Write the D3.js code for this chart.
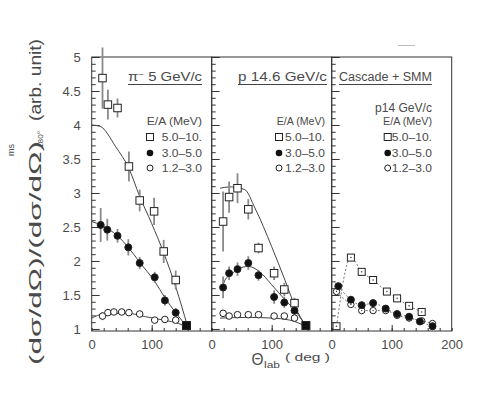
<!DOCTYPE html>
<html><head><meta charset="utf-8">
<script src="https://cdn.jsdelivr.net/npm/d3@7"></script>
<style>
body{margin:0;background:#fff}
svg{display:block}
text{font-family:"Liberation Sans",Arial,sans-serif;fill:#4a4a4a}
</style>
</head><body>
<svg id="c" width="485" height="394"></svg>
<script>
// ---------- data ----------
const panelNames = ["π⁻ 5 GeV/c", "p 14.6 GeV/c", "Cascade + SMM"];
const panel3Sub = "p14 GeV/c";
const legendHeader = "E/A (MeV)";
const seriesLabels = ["5.0–10.", "3.0–5.0", "1.2–3.0"];
const xTickLabels = [[0, 100], [0, 100], [0, 100, 200]];
const yTickLabels = [1, 1.5, 2, 2.5, 3, 3.5, 4, 4.5, 5];

// panel 1 : pi- 5 GeV/c
const p1SqAng = [18, 27, 43, 62, 80, 104, 120, 140];
const p1SqVal = [4.69, 4.30, 4.25, 3.39, 2.89, 2.73, 2.14, 1.72];
const p1SqErr = [0.45, 0.22, 0.14, 0.22, 0.16, 0.2, 0.17, 0.14];
const p1FcAng = [15, 26, 43, 61, 80, 105, 122, 140];
const p1FcVal = [2.53, 2.46, 2.37, 2.20, 1.97, 1.76, 1.42, 1.24];
const p1FcErr = [0.25, 0.16, 0.1, 0.12, 0.09, 0.08, 0.08, 0.07];
const p1OcAng = [18, 27, 37, 50, 62, 80, 105, 122, 140];
const p1OcVal = [1.19, 1.24, 1.25, 1.25, 1.24, 1.22, 1.13, 1.14, 1.13];
const p1OcErr = [0.06, 0.05, 0.04, 0.04, 0.04, 0.04, 0.04, 0.04, 0.04];
const p1FitSqAng = [0, 14, 40, 62, 80, 100, 120, 140, 160];
const p1FitSqVal = [4.0, 3.98, 3.68, 3.36, 2.95, 2.55, 2.12, 1.62, 1.03];
const p1FitFcAng = [0, 15, 43, 62, 80, 105, 122, 140, 160];
const p1FitFcVal = [2.58, 2.53, 2.37, 2.19, 1.98, 1.70, 1.46, 1.24, 1.02];
const p1FitOcAng = [0, 20, 60, 90, 120, 145, 160];
const p1FitOcVal = [1.16, 1.22, 1.23, 1.18, 1.13, 1.08, 1.02];

// panel 2 : p 14.6 GeV/c
const p2SqAng = [19, 29, 43, 61, 78, 104, 121, 138];
const p2SqVal = [2.58, 2.94, 3.07, 2.76, 2.19, 1.82, 1.58, 1.38];
const p2SqErr = [0.44, 0.23, 0.22, 0.15, 0.08, 0.1, 0.1, 0.08];
const p2FcAng = [19, 29, 43, 61, 78, 104, 121, 138];
const p2FcVal = [1.61, 1.82, 1.88, 1.97, 1.79, 1.47, 1.39, 1.27];
const p2FcErr = [0.16, 0.1, 0.1, 0.1, 0.08, 0.1, 0.08, 0.07];
const p2OcAng = [19, 29, 43, 61, 78, 104, 121, 138];
const p2OcVal = [1.23, 1.19, 1.21, 1.21, 1.21, 1.19, 1.19, 1.16];
const p2OcErr = [0.05, 0.04, 0.04, 0.04, 0.04, 0.04, 0.04, 0.04];
const p2FitSqAng = [14, 30, 55, 72, 100, 122, 139, 157];
const p2FitSqVal = [3.07, 3.09, 3.05, 2.78, 2.21, 1.72, 1.33, 1.04];
const p2FitFcAng = [14, 17, 22, 32, 44, 61, 80, 100, 122, 139, 157];
const p2FitFcVal = [1.6, 1.6, 1.72, 1.8, 1.88, 1.92, 1.84, 1.65, 1.43, 1.27, 1.04];
const p2FitOcAng = [14, 60, 100, 130, 157];
const p2FitOcVal = [1.16, 1.17, 1.16, 1.13, 1.04];

// normalisation points (180 deg reference)
const normAng = [158, 157];
const normVal = [1.05, 1.05];

// panel 3 : Cascade + SMM
const p3SqAng = [8, 32, 50, 69, 92, 109, 129, 150];
const p3SqVal = [1.04, 2.05, 1.84, 1.72, 1.55, 1.45, 1.34, 1.25];
const p3FcAng = [11, 32, 50, 69, 90, 109, 129, 147, 168];
const p3FcVal = [1.63, 1.43, 1.35, 1.38, 1.30, 1.22, 1.18, 1.11, 1.04];
const p3OcAng = [8, 32, 50, 69, 90, 109, 129, 150, 168];
const p3OcVal = [1.55, 1.36, 1.27, 1.27, 1.27, 1.20, 1.16, 1.12, 1.08];

// ---------- layout ----------
(function () {
const svg = d3.select("#c");
const yTop = 57, yBot = 331, pw = 120;
const panelX = [91.7, 211.7, 331.7];
const y = d3.scaleLinear().domain([0.97, 5]).range([yBot, yTop]);
const xs = panelX.map(x0 => d3.scaleLinear().domain([0, 200]).range([x0, x0 + pw]));
const ink = "#333", grey = "#8a8a8a";

// y ticks (each panel, inward)
const majorY = d3.range(1, 5.01, 0.5);
const minorY = d3.range(1, 5.001, 0.1).filter(v => Math.abs(v * 2 - Math.round(v * 2)) > 0.01);
panelX.forEach(x0 => {
  const gMin = svg.append("g").attr("transform", `translate(${x0},0)`)
    .call(d3.axisRight(y).tickValues(minorY).tickSize(4).tickFormat(""));
  const gMaj = svg.append("g").attr("transform", `translate(${x0},0)`)
    .call(d3.axisRight(y).tickValues(majorY).tickSize(8).tickFormat(""));
  [gMin, gMaj].forEach(g => { g.select(".domain").remove(); g.selectAll("line").attr("stroke", ink); });
});
// y labels
const gyl = svg.append("g").attr("transform", `translate(${panelX[0]},0)`)
  .call(d3.axisLeft(y).tickValues(yTickLabels).tickSize(0).tickPadding(11).tickFormat(d3.format("")));
gyl.select(".domain").remove();
gyl.selectAll("text").attr("font-size", 13).attr("fill", "#555").attr("font-family", "Liberation Sans");

// x ticks and labels
xs.forEach((x, i) => {
  const minor = d3.range(0, 201, 20);
  const g1 = svg.append("g").attr("transform", `translate(0,${yBot})`)
    .call(d3.axisTop(x).tickValues(minor).tickSize(3).tickFormat(""));
  const g2 = svg.append("g").attr("transform", `translate(0,${yBot})`)
    .call(d3.axisTop(x).tickValues([100]).tickSize(6).tickFormat(""));
  [g1, g2].forEach(g => { g.select(".domain").remove(); g.selectAll("line").attr("stroke", ink); });
  const gl = svg.append("g").attr("transform", `translate(0,${yBot})`)
    .call(d3.axisBottom(x).tickValues(xTickLabels[i]).tickSize(0).tickPadding(9));
  gl.select(".domain").remove();
  gl.selectAll("text").attr("font-size", 13).attr("fill", "#555").attr("font-family", "Liberation Sans");
});

// frames
panelX.forEach(x0 => {
  svg.append("rect").attr("x", x0).attr("y", yTop).attr("width", pw).attr("height", yBot - yTop)
    .attr("fill", "none").attr("stroke", ink).attr("stroke-width", 1);
});
// faint scan mark above the third panel
svg.append("line").attr("x1", 398).attr("x2", 415).attr("y1", 45.5).attr("y2", 45.5)
  .attr("stroke", "#bbb").attr("stroke-width", 1);

// helpers
function zip(a, v, e) { return a.map((d, i) => ({ a: d, v: v[i], e: e ? e[i] : 0 })); }
function fitLine(x, ang, val, dashed) {
  const line = d3.line().x(d => x(d.a)).y(d => y(d.v)).curve(d3.curveMonotoneX);
  svg.append("path").attr("d", line(zip(ang, val))).attr("fill", "none")
    .attr("stroke", dashed ? "#777" : "#444").attr("stroke-width", 1)
    .attr("stroke-dasharray", dashed ? "2,2" : null);
}
function errBars(x, pts) {
  svg.append("g").selectAll("line").data(pts.filter(p => p.e > 0)).join("line")
    .attr("x1", d => x(d.a)).attr("x2", d => x(d.a))
    .attr("y1", d => y(d.v + d.e)).attr("y2", d => y(d.v - d.e))
    .attr("stroke", grey).attr("stroke-width", 1.8);
}
function squares(x, pts, s, fill, dot) {
  const g = svg.append("g");
  g.selectAll("rect").data(pts).join("rect")
    .attr("x", d => x(d.a) - s / 2).attr("y", d => y(d.v) - s / 2)
    .attr("width", s).attr("height", s)
    .attr("fill", fill).attr("stroke", "#222").attr("stroke-width", 1);
  if (dot) g.selectAll("circle").data(pts).join("circle")
    .attr("cx", d => x(d.a)).attr("cy", d => y(d.v)).attr("r", 0.8).attr("fill", "#444");
}
function circles(x, pts, r, fill, dot) {
  const g = svg.append("g");
  g.selectAll("circle.m").data(pts).join("circle").attr("class", "m")
    .attr("cx", d => x(d.a)).attr("cy", d => y(d.v)).attr("r", r)
    .attr("fill", fill).attr("stroke", "#222").attr("stroke-width", 1);
  if (dot) g.selectAll("circle.d").data(pts).join("circle").attr("class", "d")
    .attr("cx", d => x(d.a)).attr("cy", d => y(d.v)).attr("r", 0.7).attr("fill", "#444");
}

// panel 1
{
  const x = xs[0];
  fitLine(x, p1FitSqAng, p1FitSqVal);
  fitLine(x, p1FitFcAng, p1FitFcVal);
  fitLine(x, p1FitOcAng, p1FitOcVal);
  const sq = zip(p1SqAng, p1SqVal, p1SqErr), fc = zip(p1FcAng, p1FcVal, p1FcErr), oc = zip(p1OcAng, p1OcVal, p1OcErr);
  errBars(x, sq); errBars(x, fc); errBars(x, oc);
  squares(x, sq, 7.5, "#fff");
  circles(x, fc, 3.5, "#111");
  circles(x, oc, 3.3, "#fff");
  squares(x, [{ a: normAng[0], v: normVal[0] }], 8, "#111");
}
// panel 2
{
  const x = xs[1];
  fitLine(x, p2FitSqAng, p2FitSqVal);
  fitLine(x, p2FitFcAng, p2FitFcVal);
  fitLine(x, p2FitOcAng, p2FitOcVal);
  const sq = zip(p2SqAng, p2SqVal, p2SqErr), fc = zip(p2FcAng, p2FcVal, p2FcErr), oc = zip(p2OcAng, p2OcVal, p2OcErr);
  errBars(x, sq); errBars(x, fc); errBars(x, oc);
  squares(x, sq, 7.5, "#fff");
  circles(x, fc, 3.5, "#111");
  circles(x, oc, 3.3, "#fff");
  squares(x, [{ a: normAng[1], v: normVal[1] }], 8, "#111");
}
// panel 3
{
  const x = xs[2];
  fitLine(x, p3SqAng, p3SqVal, true);
  fitLine(x, p3FcAng, p3FcVal, true);
  fitLine(x, p3OcAng, p3OcVal, true);
  squares(x, zip(p3SqAng, p3SqVal), 7, "#fff", true);
  circles(x, zip(p3OcAng, p3OcVal), 3.2, "#fff", true);
  circles(x, zip(p3FcAng, p3FcVal), 3.5, "#111");
}

// panel titles (underlined)
const titleBoxes = [[128, 202], [238, 327], [339, 432]];
panelNames.forEach((t, i) => {
  const [a, b] = titleBoxes[i];
  const tx = svg.append("text").attr("x", a).attr("y", 81).attr("font-size", 12)
    .attr("textLength", b - a).attr("lengthAdjust", "spacingAndGlyphs");
  if (i === 0) {
    tx.append("tspan").text("π");
    tx.append("tspan").attr("dy", -4).attr("font-size", 8).text("−");
    tx.append("tspan").attr("dy", 4).text(" 5 GeV/c");
  } else tx.text(t);
  svg.append("line").attr("x1", a).attr("x2", b).attr("y1", 84.5).attr("y2", 84.5)
    .attr("stroke", "#444").attr("stroke-width", 1);
});
svg.append("text").attr("x", 375).attr("y", 112).attr("font-size", 12)
  .attr("textLength", 57).attr("lengthAdjust", "spacingAndGlyphs").text(panel3Sub);

// legends
const legX = [[146.7, 150, 161.7, 202], [276.7, 279, 285, 325], [383, 387.7, 391.7, 432]];
const rowY = [137, 153, 168];
legX.forEach(([hx, sx, tx0, tx1]) => {
  svg.append("text").attr("x", hx).attr("y", 125).attr("font-size", 11)
    .attr("textLength", tx1 - hx).attr("lengthAdjust", "spacingAndGlyphs").text(legendHeader);
  seriesLabels.forEach((s, k) => {
    svg.append("text").attr("x", tx0).attr("y", rowY[k] + 4).attr("font-size", 10.5)
      .attr("textLength", tx1 - tx0).attr("lengthAdjust", "spacingAndGlyphs").text(s);
  });
  svg.append("rect").attr("x", sx - 3.5).attr("y", rowY[0] - 3.5).attr("width", 7).attr("height", 7)
    .attr("fill", "#fff").attr("stroke", "#222");
  svg.append("circle").attr("cx", sx).attr("cy", rowY[1]).attr("r", 3.3).attr("fill", "#111");
  svg.append("circle").attr("cx", sx).attr("cy", rowY[2]).attr("r", 3).attr("fill", "#fff").attr("stroke", "#222");
});

// y-axis title (rotated)
const gy = svg.append("g").attr("transform", "translate(41,0) rotate(-90)");
gy.append("text").attr("x", -365).attr("y", 0).attr("font-size", 17).attr("fill", "#555")
  .attr("textLength", 224).attr("lengthAdjust", "spacingAndGlyphs").text("(dσ/dΩ)/(dσ/dΩ)");
gy.append("text").attr("x", -156).attr("y", -27).attr("font-size", 9).attr("fill", "#555")
  .attr("textLength", 12).attr("lengthAdjust", "spacingAndGlyphs").text("ms");
gy.append("text").attr("x", -148).attr("y", 2).attr("font-size", 7).attr("fill", "#555")
  .attr("textLength", 17).attr("lengthAdjust", "spacingAndGlyphs").text("180°");
gy.append("text").attr("x", -121).attr("y", 0).attr("font-size", 17).attr("fill", "#555")
  .attr("textLength", 82).attr("lengthAdjust", "spacingAndGlyphs").text("(arb. unit)");

// x-axis title
svg.append("text").attr("x", 251.5).attr("y", 365).attr("font-size", 17).attr("fill", "#555")
  .attr("font-family", "DejaVu Sans").attr("textLength", 12).attr("lengthAdjust", "spacingAndGlyphs").text("Θ");
svg.append("text").attr("x", 264).attr("y", 368).attr("font-size", 9).attr("fill", "#555")
  .attr("textLength", 16).attr("lengthAdjust", "spacingAndGlyphs").text("lab");
svg.append("text").attr("x", 285).attr("y", 361).attr("font-size", 11).attr("fill", "#555")
  .attr("textLength", 45).attr("lengthAdjust", "spacingAndGlyphs").text("( deg )");
})();
</script>
</body></html>
